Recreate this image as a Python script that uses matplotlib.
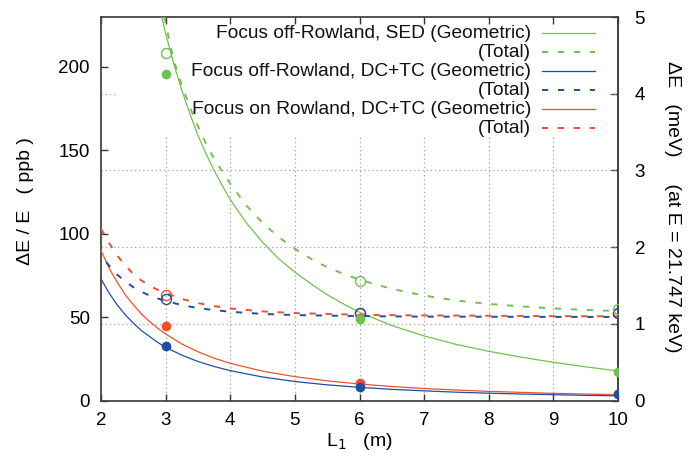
import matplotlib
matplotlib.use("Agg")
from matplotlib import pyplot as plt
from matplotlib.patches import Rectangle

plt.rcParams["font.family"] = ["Liberation Sans", "DejaVu Sans"]
plt.rcParams["lines.scale_dashes"] = False

# conversion between relative resolution (ppb) and energy width at 21.747 keV
E0_KEV = 21.747


def ppb_to_mev(v):
    return v * 1e-9 * E0_KEV * 1e6


def mev_to_ppb(v):
    return v / (E0_KEV * 1e6) * 1e9


# focus off-Rowland, SED
sed_geo_L = [2.94, 3.0, 3.125, 3.25, 3.375, 3.5, 3.625, 3.75, 3.875, 4.0, 4.25, 4.5, 4.75,
             5.0, 5.25, 5.5, 5.75, 6.0, 6.5, 7.0, 7.5, 8.0, 8.5, 9.0, 9.5, 10.0]
sed_geo = [230, 220, 202, 186, 172, 159, 148, 138, 129, 120.5, 106.5, 95, 85,
           77, 70, 63.5, 58, 53, 45, 38.8, 33.7, 29.6, 26.1, 23, 20.3, 17.8]
sed_tot_L = [2.98, 3.0, 3.125, 3.25, 3.375, 3.5, 3.625, 3.75, 3.875, 4.0, 4.25, 4.5, 4.75,
             5.0, 5.25, 5.5, 5.75, 6.0, 6.5, 7.0, 7.5, 8.0, 8.5, 9.0, 9.5, 10.0]
sed_tot = [230, 226, 204, 189, 176, 164.5, 154, 145, 137.5, 130, 117, 106.5, 98,
           91, 85, 80, 76, 72.5, 67, 63, 60, 58, 56.5, 55.3, 54.4, 53.7]

# focus off-Rowland / on Rowland, DC+TC
dc_L = [2.0, 2.125, 2.25, 2.375, 2.5, 2.625, 2.75, 2.875, 3.0, 3.25, 3.5, 3.75, 4.0,
        4.5, 5.0, 5.5, 6.0, 6.5, 7.0, 7.5, 8.0, 8.5, 9.0, 9.5, 10.0]
dc_geo = [73, 64.5, 57.5, 51.5, 46.5, 42, 38.5, 35, 32, 27.3, 23.5, 20.5, 18,
          14.2, 11.5, 9.5, 8, 6.8, 5.9, 5.1, 4.5, 4.0, 3.6, 3.2, 2.9]
dc_tot = [87, 81, 75.5, 71.5, 68, 65.3, 63, 61.3, 59.8, 57.3, 55.5, 54.3, 53.3,
          52, 51.3, 51, 50.7, 50.5, 50.4, 50.35, 50.3, 50.25, 50.2, 50.2, 50.2]
rw_geo = [90, 79.5, 71, 63.5, 57.5, 52, 47.5, 43.5, 40, 34, 29.3, 25.5, 22.4,
          17.7, 14.4, 11.9, 10, 8.5, 7.3, 6.4, 5.6, 5.0, 4.4, 4.0, 3.6]
rw_tot = [103, 94.5, 87, 81, 76, 72, 69, 66.5, 64.5, 61, 58.5, 56.7, 55.3,
          53.5, 52.5, 52, 51.5, 51.3, 51.1, 51, 50.9, 50.8, 50.7, 50.6, 50.6]

# ray-tracing points
pts_L = [3, 6, 10]
sed_geo_pts = [196, 48.8, 17.4]
sed_tot_pts = [208.5, 71.5, 54.8]
dc_geo_pts = [32.8, 8, 4]
dc_tot_pts = [61, 52.7, 52.4]
rw_geo_pts = [44.8, 10.8, 4.2]
rw_tot_pts = [63.3, 52.7, 52.6]

GREEN = "#70c24e"
BLUE = "#1f4ea3"
RED = "#f0502d"
DASH = (4.5, 7)
LW_SOLID = 0.9
LW_DASH = 1.4

fig = plt.figure(figsize=(6.94, 4.59), dpi=100)
ax = fig.add_axes([101 / 694, 1 - 400.7 / 459, 517 / 694, 383.7 / 459])
ax.set_xlim(2, 10)
ax.set_ylim(0, mev_to_ppb(5))

# dotted grid: verticals at integer L, horizontals at the meV ticks
for x in range(3, 10):
    ax.axvline(x, color="#a8a8a8", lw=0.9, ls=(0, (1, 2)), zorder=0.5)
for m in [1, 2, 3, 4]:
    ax.axhline(mev_to_ppb(m), color="#a8a8a8", lw=0.9, ls=(0, (1, 2)), zorder=0.5)

# key area is opaque over the grid
ax.add_patch(Rectangle((16 / 517, (400.7 - 137) / 383.7), 490 / 517, 1,
                       transform=ax.transAxes, facecolor="white", edgecolor="none", zorder=1))

ax.plot(sed_geo_L, sed_geo, color=GREEN, lw=LW_SOLID, zorder=3)
ax.plot(sed_tot_L, sed_tot, color=GREEN, lw=LW_DASH, dashes=DASH, zorder=3)
ax.plot(dc_L, rw_geo, color=RED, lw=LW_SOLID, zorder=3)
ax.plot(dc_L, dc_geo, color=BLUE, lw=LW_SOLID, zorder=3)
ax.plot(dc_L, rw_tot, color=RED, lw=LW_DASH, ls=(0, DASH), zorder=3)
ax.plot(dc_L, dc_tot, color=BLUE, lw=LW_DASH, ls=(5.5, DASH), zorder=3.1)

open_kw = dict(ls="none", marker="o", ms=7.2, mfc="none", mew=1.0, zorder=4)
fill_kw = dict(ls="none", marker="o", ms=7, mew=0, zorder=4)
ax.plot(pts_L, rw_tot_pts, mec=RED, **open_kw)
ax.plot(pts_L, dc_tot_pts, mec=BLUE, **open_kw)
ax.plot(pts_L, sed_tot_pts, mec=GREEN, **open_kw)
ax.plot(pts_L, rw_geo_pts, mfc=RED, **fill_kw)
ax.plot(pts_L, dc_geo_pts, mfc=BLUE, **fill_kw)
ax.plot(pts_L, sed_geo_pts, mfc=GREEN, **fill_kw)

# key: right-aligned text followed by the line sample
key = [
    ("Focus off-Rowland, SED (Geometric)", GREEN, None),
    ("(Total)", GREEN, DASH),
    ("Focus off-Rowland, DC+TC (Geometric)", BLUE, None),
    ("(Total)", BLUE, DASH),
    ("Focus on Rowland, DC+TC (Geometric)", RED, None),
    ("(Total)", RED, DASH),
]
for i, (label, color, dash) in enumerate(key):
    yk = (400.7 - (33.3 + 19 * i)) / 383.7
    ax.text((531 - 101) / 517, yk, label, transform=ax.transAxes, ha="right", va="center",
            fontsize=13.8, color="#111111", zorder=5)
    kw = dict(color=color, transform=ax.transAxes, zorder=5, clip_on=False)
    xs = [(542 - 101) / 517, (595 - 101) / 517]
    if dash is None:
        ax.plot(xs, [yk, yk], lw=LW_SOLID, **kw)
    else:
        ax.plot(xs, [yk, yk], lw=LW_DASH, dashes=dash, **kw)

ax.set_xticks(range(2, 11))
ax.set_yticks([0, 50, 100, 150, 200])
ax.tick_params(direction="in", length=5, width=1.0, labelsize=13.5, color="#333333", pad=8)
ax.tick_params(axis="y", right=False)
ax.tick_params(axis="x", top=True)

sec = ax.secondary_yaxis("right", functions=(ppb_to_mev, mev_to_ppb))
sec.set_yticks([0, 1, 2, 3, 4, 5])
sec.tick_params(direction="in", length=5, width=1.0, labelsize=13.5, color="#333333", pad=12)
sec.spines["right"].set_color("#444444")
sec.spines["right"].set_linewidth(1.3)

for s in ax.spines.values():
    s.set_color("#444444")
    s.set_linewidth(1.3)

ax.set_xlabel("L$_1$   (m)", fontsize=14)
ax.xaxis.set_label_coords(0.5, -(441 - 400.7) / 383.7)
ax.xaxis.label.set_va("center")
ax.set_ylabel("ΔE / E   ( ppb )", fontsize=14)
ax.yaxis.set_label_coords(-(101 - 25) / 517, (400.7 - 201) / 383.7)
ax.yaxis.label.set_va("center")
fig.text(673 / 694, 1 - 207 / 459, "ΔE   (meV)     (at E = 21.747 keV)", fontsize=14,
         rotation=270, ha="center", va="center")

fig.savefig("out.png", dpi=100)
